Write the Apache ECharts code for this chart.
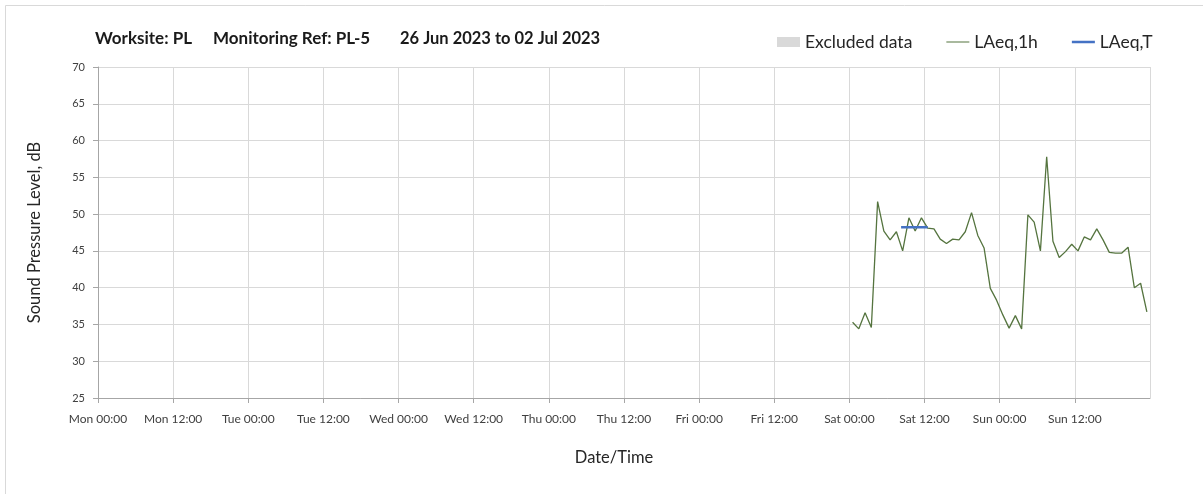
<!DOCTYPE html>
<html>
<head>
<meta charset="utf-8">
<script src="https://cdn.jsdelivr.net/npm/echarts@6/dist/echarts.min.js"></script>
<style>
html,body{margin:0;padding:0;background:#fff;}
#chart{width:1203px;height:494px;}
</style>
</head>
<body>
<div id="chart"></div>
<script>
// Week starts Mon 26 Jun 2023 00:00; x values are hours since then
const dayNames = ['Mon','Tue','Wed','Thu','Fri','Sat','Sun','Mon'];
const firstHourMid = 120.5; // Sat 00:30 (centre of first hourly period)
const laeq1h = [35.3,34.4,36.6,34.6,51.7,47.7,46.5,47.6,45.0,49.5,47.7,49.5,
                48.1,48.0,46.6,46.0,46.6,46.5,47.6,50.2,47.1,45.4,39.9,38.3,
                36.3,34.5,36.2,34.4,49.9,48.9,45.0,57.8,46.3,44.1,44.9,45.9,
                45.0,46.9,46.5,48.0,46.5,44.8,44.7,44.7,45.5,40.0,40.6,36.7];
const laeqTStart = 128.25, laeqTEnd = 132.5, laeqTValue = 48.2;
const yTicks = [25,30,35,40,45,50,55,60,65,70];

const lineData = laeq1h.map((v,i)=>[firstHourMid + i, v]);
const tData = [[laeqTStart, laeqTValue],[laeqTEnd, laeqTValue]];

const FONT = 'Lato, "Open Sans", sans-serif';
const LINE_ICON = 'path://M0,0L0.01,0L0.01,0.01L0,0.01Z M0,4.4L24,4.4L24,5.6L0,5.6Z M23.99,9.99L24,9.99L24,10L23.99,10Z';
const THICK_ICON = 'path://M0,0L0.01,0L0.01,0.01L0,0.01Z M0,3.7L24,3.7L24,6.3L0,6.3Z M23.99,9.99L24,9.99L24,10L23.99,10Z';
const chart = echarts.init(document.getElementById('chart'), null, {renderer:'canvas'});
chart.setOption({
  animation:false,
  backgroundColor:'#fff',
  graphic:[
    {type:'rect', shape:{x:5.5,y:5.5,width:1400,height:700}, style:{fill:'none',stroke:'#d9d9d9',lineWidth:1}, silent:true, z:-1},
    {type:'text', left:95, top:30, style:{text:'Worksite: PL', font:'bold 17px '+FONT, fill:'#1a1a1a'}},
    {type:'text', left:213, top:30, style:{text:'Monitoring Ref: PL-5', font:'bold 17px '+FONT, fill:'#1a1a1a'}},
    {type:'text', left:400, top:30, style:{text:'26 Jun 2023 to 02 Jul 2023', font:'bold 16.5px '+FONT, fill:'#1a1a1a'}}
  ],
  legend:{
    left:772, top:28, itemGap:34, itemWidth:23, itemHeight:10,
    textStyle:{fontFamily:FONT, fontSize:17.5, color:'#262626'},
    data:[
      {name:'Excluded data', icon:'rect', itemStyle:{color:'#d9d9d9'}},
      {name:'LAeq,1h', icon:LINE_ICON},
      {name:'LAeq,T', icon:THICK_ICON}
    ]
  },
  grid:{left:98, top:67, width:1052, height:331, containLabel:false},
  xAxis:{
    type:'value', min:0, max:168, interval:12,
    name:'Date/Time', nameLocation:'middle', nameGap:51,
    nameTextStyle:{fontFamily:FONT, fontSize:16.5, color:'#262626', padding:[0,20,0,0]},
    axisLine:{show:true, lineStyle:{color:'#a6a6a6', width:1}},
    axisTick:{show:true, length:5, lineStyle:{color:'#a6a6a6'}},
    splitLine:{show:true, lineStyle:{color:'#d9d9d9', width:1}},
    axisLabel:{
      fontFamily:FONT, fontSize:12, color:'#404040', margin:15, showMaxLabel:false,
      formatter:(v)=>{
        const d = Math.floor(v/24), h = v%24;
        return dayNames[d] + ' ' + (h<10?'0':'') + h + ':00';
      }
    }
  },
  yAxis:{
    type:'value', min:yTicks[0], max:yTicks[yTicks.length-1], interval:5,
    name:'Sound Pressure Level, dB', nameLocation:'middle', nameGap:55,
    nameTextStyle:{fontFamily:FONT, fontSize:16.5, color:'#262626'},
    axisLine:{show:true, lineStyle:{color:'#a6a6a6', width:1}},
    axisTick:{show:true, length:5, lineStyle:{color:'#a6a6a6'}},
    splitLine:{show:true, lineStyle:{color:'#d9d9d9', width:1}},
    axisLabel:{fontFamily:FONT, fontSize:11, color:'#404040', margin:13}
  },
  series:[
    {name:'Excluded data', type:'bar', data:[], itemStyle:{color:'#d9d9d9'}},
    {name:'LAeq,1h', type:'line', data:lineData, symbol:'none', showSymbol:false,
     lineStyle:{color:'#55743f', width:1.3}, itemStyle:{color:'#55743f'}, z:3},
    {name:'LAeq,T', type:'line', data:tData, symbol:'none', showSymbol:false,
     lineStyle:{color:'#4472c4', width:2.5}, itemStyle:{color:'#4472c4'}, z:4}
  ]
});
</script>
</body>
</html>
